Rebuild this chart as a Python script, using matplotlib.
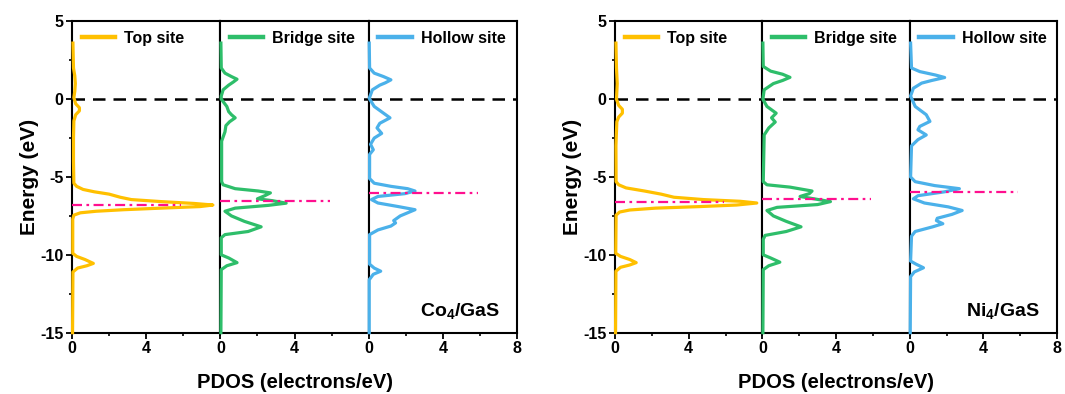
import numpy as np
import matplotlib
matplotlib.use('Agg')
import matplotlib.pyplot as plt
from matplotlib.ticker import MultipleLocator

plt.rcParams['font.family'] = 'Liberation Sans'
plt.rcParams['font.weight'] = 'bold'
plt.rcParams['axes.unicode_minus'] = False
plt.rcParams['mathtext.fontset'] = 'custom'
plt.rcParams['mathtext.bf'] = 'Liberation Sans:bold'
plt.rcParams['mathtext.rm'] = 'Liberation Sans:bold'

# PDOS curves: (energy eV, pdos)
co_top = [(3.6, 0.05), (2.0, 0.08), (1.5, 0.15), (1.0, 0.18), (0.5, 0.15), (0.1, 0.1),
          (-0.3, 0.2), (-0.55, 0.4), (-0.75, 0.4), (-1.0, 0.2), (-1.4, 0.1), (-2.5, 0.08),
          (-4.0, 0.08), (-5.4, 0.1), (-5.6, 0.25), (-5.8, 0.6), (-5.95, 1.2), (-6.1, 2.0),
          (-6.3, 2.6), (-6.45, 3.2), (-6.58, 4.8), (-6.7, 6.6), (-6.8, 7.6), (-6.9, 6.9),
          (-7.0, 4.8), (-7.1, 2.8), (-7.2, 1.3), (-7.3, 0.45), (-7.45, 0.1), (-7.7, 0.04),
          (-9.9, 0.04), (-10.1, 0.25), (-10.3, 0.7), (-10.55, 1.15), (-10.7, 0.8),
          (-10.85, 0.3), (-11.1, 0.05), (-15, 0.03)]
co_bridge = [(3.6, 0.03), (2.0, 0.05), (1.67, 0.25), (1.45, 0.6), (1.28, 0.9), (1.1, 0.7),
             (0.9, 0.45), (0.6, 0.15), (0.2, 0.05), (0.0, 0.05), (-0.47, 0.35), (-0.8, 0.45),
             (-1.0, 0.6), (-1.2, 0.8), (-1.45, 0.5), (-1.7, 0.3), (-2.1, 0.25), (-2.7, 0.07),
             (-5.3, 0.07), (-5.5, 0.15), (-5.75, 0.8), (-5.9, 2.05), (-6.02, 2.7), (-6.2, 2.4),
             (-6.4, 2.0), (-6.52, 2.8), (-6.68, 3.55), (-6.82, 2.6), (-7.0, 0.8), (-7.2, 0.25),
             (-7.5, 0.6), (-7.85, 1.3), (-8.2, 2.2), (-8.5, 1.5), (-8.7, 0.25), (-8.9, 0.05),
             (-10.0, 0.05), (-10.2, 0.45), (-10.5, 0.9), (-10.7, 0.35), (-10.95, 0.05),
             (-15, 0.03)]
co_hollow = [(3.6, 0.03), (2.0, 0.05), (1.67, 0.3), (1.45, 0.8), (1.24, 1.2), (1.05, 0.9),
             (0.9, 0.6), (0.6, 0.2), (0.05, 0.03), (-0.47, 0.3), (-0.9, 0.8), (-1.2, 1.15),
             (-1.55, 0.6), (-1.85, 0.45), (-2.2, 0.7), (-2.5, 0.3), (-2.9, 0.1), (-3.25, 0.25),
             (-3.55, 0.05), (-5.1, 0.05), (-5.4, 0.3), (-5.6, 1.2), (-5.75, 2.1), (-5.9, 2.5),
             (-6.07, 1.95), (-6.25, 0.5), (-6.45, 0.15), (-6.67, 0.5), (-6.9, 1.6), (-7.1, 2.5),
             (-7.3, 2.1), (-7.5, 1.7), (-7.8, 1.35), (-7.95, 1.45), (-8.15, 1.2), (-8.4, 0.5),
             (-8.7, 0.05), (-10.6, 0.05), (-10.85, 0.3), (-11.05, 0.65), (-11.25, 0.25),
             (-11.6, 0.03), (-15, 0.03)]

ni_top = [(3.6, 0.05), (2.0, 0.08), (1.5, 0.1), (1.0, 0.12), (0.5, 0.1), (0.0, 0.08),
          (-0.4, 0.2), (-0.65, 0.4), (-0.9, 0.4), (-1.15, 0.2), (-1.45, 0.1), (-3.0, 0.05),
          (-5.3, 0.06), (-5.5, 0.2), (-5.7, 0.6), (-5.9, 1.6), (-6.1, 2.5), (-6.3, 3.2),
          (-6.45, 4.8), (-6.56, 6.8), (-6.67, 7.7), (-6.8, 6.6), (-6.9, 4.6), (-7.0, 2.2),
          (-7.12, 0.8), (-7.25, 0.25), (-7.45, 0.06), (-9.9, 0.04), (-10.1, 0.3),
          (-10.3, 0.8), (-10.5, 1.15), (-10.65, 0.8), (-10.8, 0.3), (-11.05, 0.05),
          (-15, 0.03)]
ni_bridge = [(3.6, 0.03), (2.1, 0.05), (1.8, 0.45), (1.6, 1.1), (1.4, 1.5), (1.2, 1.1),
             (1.0, 0.6), (0.6, 0.1), (0.0, 0.03), (-0.47, 0.25), (-0.9, 0.75), (-1.2, 0.5),
             (-1.47, 0.7), (-1.85, 0.35), (-2.3, 0.1), (-5.3, 0.05), (-5.5, 0.25),
             (-5.65, 1.5), (-5.9, 2.7), (-6.07, 2.55), (-6.25, 2.05), (-6.42, 2.9), (-6.58, 3.7),
             (-6.77, 3.0), (-6.95, 0.8), (-7.15, 0.25), (-7.5, 0.6), (-7.85, 1.3), (-8.2, 2.1),
             (-8.5, 1.3), (-8.75, 0.15), (-9.0, 0.05), (-10.0, 0.05), (-10.2, 0.45),
             (-10.47, 0.95), (-10.7, 0.35), (-10.95, 0.05), (-15, 0.03)]
ni_hollow = [(3.6, 0.05), (2.0, 0.1), (1.77, 0.55), (1.55, 1.4), (1.39, 1.9), (1.2, 1.2),
             (1.03, 0.65), (0.7, 0.2), (0.2, 0.05), (-0.47, 0.3), (-1.0, 0.9), (-1.43, 1.1),
             (-1.75, 0.55), (-1.97, 0.45), (-2.3, 0.9), (-2.6, 0.45), (-3.0, 0.1),
             (-5.0, 0.05), (-5.3, 0.3), (-5.55, 1.35), (-5.75, 2.7), (-5.95, 1.9),
             (-6.2, 0.45), (-6.4, 0.2), (-6.67, 0.8), (-6.92, 2.1), (-7.15, 2.85), (-7.4, 2.3),
             (-7.65, 1.5), (-7.8, 1.45), (-8.0, 1.8), (-8.2, 1.25), (-8.5, 0.3), (-8.8, 0.1),
             (-10.4, 0.05), (-10.6, 0.35), (-10.83, 0.75), (-11.1, 0.25), (-11.4, 0.05),
             (-15, 0.03)]

# d-band centres (magenta dash-dot lines)
co_centres = [-6.77, -6.56, -6.05]
ni_centres = [-6.6, -6.39, -5.98]

site_labels = ['Top site', 'Bridge site', 'Hollow site']
colors = ['#FFC000', '#2EBE6A', '#4BB1EA']
panels = [('Co$_{\\mathbf{4}}$/GaS', [co_top, co_bridge, co_hollow], co_centres, 72, 517),
          ('Ni$_{\\mathbf{4}}$/GaS', [ni_top, ni_bridge, ni_hollow], ni_centres, 615, 1057)]

W, H = 1065, 394
fig = plt.figure(figsize=(W / 100, H / 100), dpi=100)
y_top, y_bot = 21.3, 332.7

for name, curves, centres, px0, px1 in panels:
    sub_w = (px1 - px0) / 3
    axes = []
    for i in range(3):
        ax = fig.add_axes([(px0 + i * sub_w) / W, 1 - y_bot / H, sub_w / W, (y_bot - y_top) / H])
        data = np.array(curves[i])
        ax.plot(data[:, 1], data[:, 0], color=colors[i], lw=2.3, label=site_labels[i],
                zorder=4, solid_joinstyle='round', clip_on=False)
        ax.plot([0, 8], [0, 0], color='black', lw=1.8, ls=(0, (5, 3.2)), zorder=3)
        ax.plot([0, 5.9], [centres[i], centres[i]], color='#FF0F8F', lw=1.6,
                ls=(0, (4.5, 2, 1.2, 2)), zorder=5)
        ax.set_xlim(0, 8)
        ax.set_ylim(-15, 5)
        ax.xaxis.set_major_locator(MultipleLocator(4))
        ax.xaxis.set_minor_locator(MultipleLocator(2))
        ax.tick_params(axis='x', which='major', direction='out', length=4, width=1.3,
                       labelsize=11.5, pad=2)
        ax.tick_params(axis='x', which='minor', direction='out', length=2.5, width=1.2)
        if i < 2:
            ax.set_xticks([0, 4])
        if i == 0:
            ax.yaxis.set_major_locator(MultipleLocator(5))
            ax.yaxis.set_minor_locator(MultipleLocator(2.5))
            ax.tick_params(axis='y', which='major', direction='out', length=4, width=1.3,
                           labelsize=11.5, pad=2)
            ax.tick_params(axis='y', which='minor', direction='out', length=2.5, width=1.2)
            ax.set_ylabel('Energy (eV)', fontsize=15, fontweight='bold', labelpad=1)
        else:
            ax.tick_params(axis='y', which='both', left=False, labelleft=False)
        for sp in ax.spines.values():
            sp.set_linewidth(1.5)
        leg = ax.legend(loc='upper left', frameon=False, fontsize=11.5, handlelength=2.1,
                        handletextpad=0.55, borderaxespad=0.2, bbox_to_anchor=(0.0, 1.0))
        for ln in leg.get_lines():
            ln.set_linewidth(3.2)
        axes.append(ax)
    axes[2].text(0.885, 0.05, name, transform=axes[2].transAxes, ha='right',
                 va='baseline', fontsize=14, fontweight='bold')
    axes[1].set_xlabel('PDOS (electrons/eV)', fontsize=14.5, fontweight='bold', labelpad=12)

fig.savefig('out.png', dpi=100)
